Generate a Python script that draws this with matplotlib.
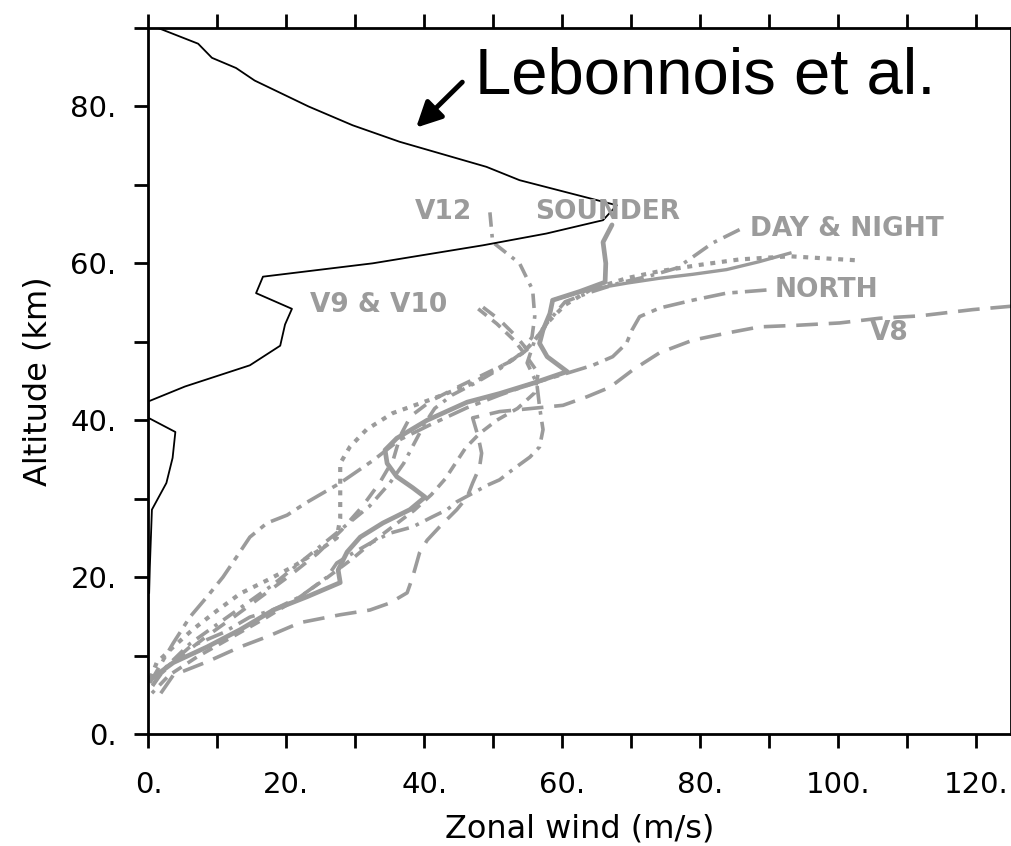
import numpy as np
import matplotlib.pyplot as plt
from matplotlib.ticker import MultipleLocator, FuncFormatter

# Lebonnois et al. model profile (black)
leb_u = [1.4, 7.2, 9.2, 12.7, 15.4, 23.2, 29.6, 36.4, 42.7, 49.0, 53.8, 67.9, 65.9, 57.7, 48.5,
         32.5, 16.6, 15.6, 20.8, 19.8, 19.1, 14.7, 5.3, 0.0, 0.0, 3.9, 3.5, 2.6, 0.5, 0.2, 0.1]
leb_z = [90.0, 88.0, 86.2, 84.9, 83.3, 80.0, 77.6, 75.5, 73.9, 72.3, 70.6, 67.4, 65.5, 63.8, 62.3,
         60.0, 58.3, 56.2, 54.2, 52.2, 49.5, 47.0, 44.3, 42.4, 40.3, 38.5, 35.2, 32.0, 28.6, 21.3, 18.0]

# probe / sounder observations (grey)
sounder_u = [67.2, 65.9, 66.3, 66.2, 62.5, 58.6, 58.2, 57.2, 56.7, 57.8, 60.7, 55.7, 50.9, 46.2,
             40.4, 36.0, 34.3, 34.6, 36.0, 38.3, 40.1, 37.9, 34.0, 30.7, 28.8, 27.5, 27.8, 23.0,
             18.1, 13.3, 8.5, 3.6, 0.2]
sounder_z = [64.9, 62.7, 60.0, 57.6, 56.4, 55.3, 53.6, 51.5, 49.8, 48.1, 46.2, 44.7, 43.4, 42.3,
             40.0, 37.7, 36.2, 34.5, 32.8, 31.4, 30.2, 28.6, 26.9, 25.1, 23.2, 20.9, 19.3, 17.5,
             15.8, 13.3, 11.1, 9.1, 6.9]

night_u = [93.0, 88.5, 83.8, 78.9, 74.1, 69.5, 66.2, 62.5, 58.6]
night_z = [61.3, 60.2, 59.2, 58.6, 58.1, 57.5, 57.0, 56.3, 55.3]

day_u = [85.7, 81.8, 78.9, 76.6, 72.7, 68.3, 64.0, 60.4, 57.8, 56.0, 54.9, 56.3, 56.7, 57.2, 56.7,
         55.3, 52.8, 50.9, 49.1, 46.6, 44.7, 43.3, 41.2, 38.3, 35.0, 32.1, 29.7, 27.3, 25.9, 22.0,
         18.0, 14.7, 10.8, 6.0, 1.7, 0.2]
day_z = [64.3, 62.6, 60.8, 59.4, 58.4, 57.5, 56.3, 55.1, 52.4, 50.2, 47.3, 44.7, 41.7, 38.8, 36.6,
         35.3, 33.7, 32.4, 31.7, 30.5, 29.6, 28.6, 27.7, 26.4, 25.6, 24.3, 23.1, 21.8, 20.0, 17.5,
         15.8, 14.9, 12.9, 11.1, 7.8, 5.6]

dot_u = [102.4, 93.0, 85.7, 79.9, 74.1, 69.3, 64.0, 60.4, 57.8, 56.0, 54.3, 52.0, 47.0, 40.8, 35.4,
         31.6, 29.2, 27.8, 27.8, 27.8, 27.3, 24.9, 20.9, 17.2, 13.3, 9.9, 6.4, 3.6, 1.2, 0.2]
dot_z = [60.4, 60.9, 60.5, 59.8, 59.0, 58.1, 56.6, 54.7, 52.4, 50.2, 48.6, 47.3, 44.7, 42.6, 40.9,
         38.8, 36.6, 34.5, 31.0, 27.5, 25.0, 23.5, 21.3, 19.6, 17.9, 15.7, 13.3, 11.1, 9.1, 6.9]

north_u = [89.6, 83.8, 78.9, 74.1, 71.2, 70.1, 69.3, 67.3, 64.4, 60.7, 55.7, 50.9, 46.2, 40.8, 36.4,
           32.6, 27.8, 22.9, 20.1, 17.2, 14.7, 12.8, 10.8, 8.5, 6.0, 3.6, 0.2]
north_z = [56.6, 56.2, 55.3, 54.3, 53.2, 51.5, 49.8, 48.1, 47.0, 46.0, 44.7, 43.2, 41.6, 39.4, 37.5,
           34.9, 32.0, 29.5, 27.9, 26.9, 25.1, 22.6, 20.0, 17.5, 14.9, 11.6, 6.5]

v8_u = [126.0, 119.5, 111.8, 106.0, 100.2, 94.0, 88.6, 83.8, 78.9, 74.1, 70.2, 66.9, 63.6, 60.1,
        56.7, 50.9, 47.0, 47.8, 48.3, 48.0, 47.0, 46.2, 44.7, 42.2, 40.4, 39.3, 38.3, 37.5, 35.0,
        32.1, 27.8, 22.0, 17.2, 13.3, 8.5, 3.6, 1.4]
v8_z = [54.6, 54.1, 53.3, 53.0, 52.4, 52.1, 51.9, 51.1, 50.2, 48.6, 46.4, 44.2, 43.0, 41.9, 41.6,
        41.1, 40.3, 37.9, 35.8, 34.0, 32.0, 30.2, 28.6, 26.4, 24.7, 23.1, 20.0, 18.0, 16.7, 15.8,
        15.2, 14.2, 12.4, 11.1, 9.2, 7.5, 4.7]

v12_u = [49.5, 49.9, 53.8, 55.7, 56.0, 55.6, 54.0, 51.0, 47.5, 44.0, 41.5, 40.0, 38.5, 37.0, 35.0,
         32.0, 28.5, 25.0, 21.5, 18.0, 14.0, 10.0, 6.0, 2.5, 0.5]
v12_z = [66.5, 62.7, 60.0, 56.6, 53.2, 50.6, 48.5, 46.6, 44.8, 43.2, 41.5, 39.5, 37.0, 34.5, 32.0,
         29.0, 26.5, 24.0, 21.5, 19.0, 16.5, 14.0, 11.5, 8.5, 6.0]

v9_u = [48.5, 50.9, 53.4, 54.9, 52.5, 49.0, 45.0, 41.0, 38.0, 36.5, 35.5, 33.5, 31.0, 28.0, 24.5,
        20.5, 16.5, 12.5, 8.5, 4.5, 1.2]
v9_z = [54.4, 52.8, 50.6, 49.0, 47.5, 46.0, 44.3, 42.5, 40.5, 38.0, 35.0, 32.0, 29.0, 26.0, 23.0,
        20.2, 17.6, 15.0, 12.5, 9.8, 7.2]

v10_u = [47.8, 50.5, 53.0, 54.6, 56.5, 56.0, 53.5, 50.5, 48.0, 46.0, 44.5, 43.0, 41.0, 38.5, 35.5,
         32.5, 29.5, 26.0, 22.0, 17.0, 12.0, 7.0, 3.0, 0.5]
v10_z = [54.2, 52.3, 50.2, 48.4, 46.0, 43.5, 41.5, 40.0, 38.3, 36.5, 34.5, 32.5, 30.5, 28.5, 26.5,
         24.5, 22.3, 20.0, 17.5, 14.8, 12.3, 9.8, 7.5, 5.2]

grey = '#9b9b9b'

fig = plt.figure(figsize=(10.12, 8.46), dpi=100)
ax = fig.add_axes([0.1467, 0.1324, 0.852, 0.8345])

ax.plot(leb_u, leb_z, color='black', lw=1.3, zorder=3)

ax.plot(sounder_u, sounder_z, color=grey, lw=3.4, solid_capstyle='round')
ax.plot(night_u, night_z, color=grey, lw=2.4)
ax.plot(day_u, day_z, color=grey, lw=2.6, dashes=[5, 2, 1, 2])
ax.plot(dot_u, dot_z, color=grey, lw=3.0, dashes=[1.2, 1.6])
ax.plot(north_u, north_z, color=grey, lw=2.6, dashes=[6, 2, 1.5, 2])
ax.plot(v8_u, v8_z, color=grey, lw=2.6, dashes=[6, 3])
ax.plot(v12_u, v12_z, color=grey, lw=2.6, dashes=[4, 2, 1, 2])
ax.plot(v9_u, v9_z, color=grey, lw=2.6, dashes=[4, 3])
ax.plot(v10_u, v10_z, color=grey, lw=2.6, dashes=[3, 2])

lab = dict(color=grey, fontsize=19, fontweight='bold', family='DejaVu Sans', va='center', ha='left')
ax.text(38.6, 66.5, 'V12', **lab)
ax.text(56.0, 66.5, 'SOUNDER', **lab)
ax.text(87.2, 64.4, 'DAY & NIGHT', **lab)
ax.text(23.4, 54.7, 'V9 & V10', **lab)
ax.text(90.8, 56.6, 'NORTH', **lab)
ax.text(104.6, 51.1, 'V8', **lab)

ax.text(47.3, 81.6, 'Lebonnois et al.', fontsize=47, family='Liberation Sans',
        ha='left', va='baseline', color='black')
ax.annotate('', xy=(38.8, 77.3), xytext=(45.5, 83.1),
            arrowprops=dict(arrowstyle='-|>', lw=3.5, mutation_scale=38, color='black',
                            shrinkA=0, shrinkB=0))

ax.set_xlim(0, 125)
ax.set_ylim(0, 90)

fmt = FuncFormatter(lambda v, p: '%d.' % v if int(round(v)) % 20 == 0 else '')
ax.xaxis.set_major_locator(MultipleLocator(10))
ax.yaxis.set_major_locator(MultipleLocator(10))
ax.xaxis.set_major_formatter(fmt)
ax.yaxis.set_major_formatter(fmt)

ax.tick_params(direction='out', length=10, width=2, pad=13, labelsize=21,
               top=True, right=False, bottom=True, left=True)
ax.tick_params(axis='x', pad=17)
for s in ax.spines.values():
    s.set_linewidth(2)

ax.set_xlabel('Zonal wind (m/s)', fontsize=23, labelpad=10)
ax.set_ylabel('Altitude (km)', fontsize=23, labelpad=12)

fig.savefig('out.png', dpi=100)
